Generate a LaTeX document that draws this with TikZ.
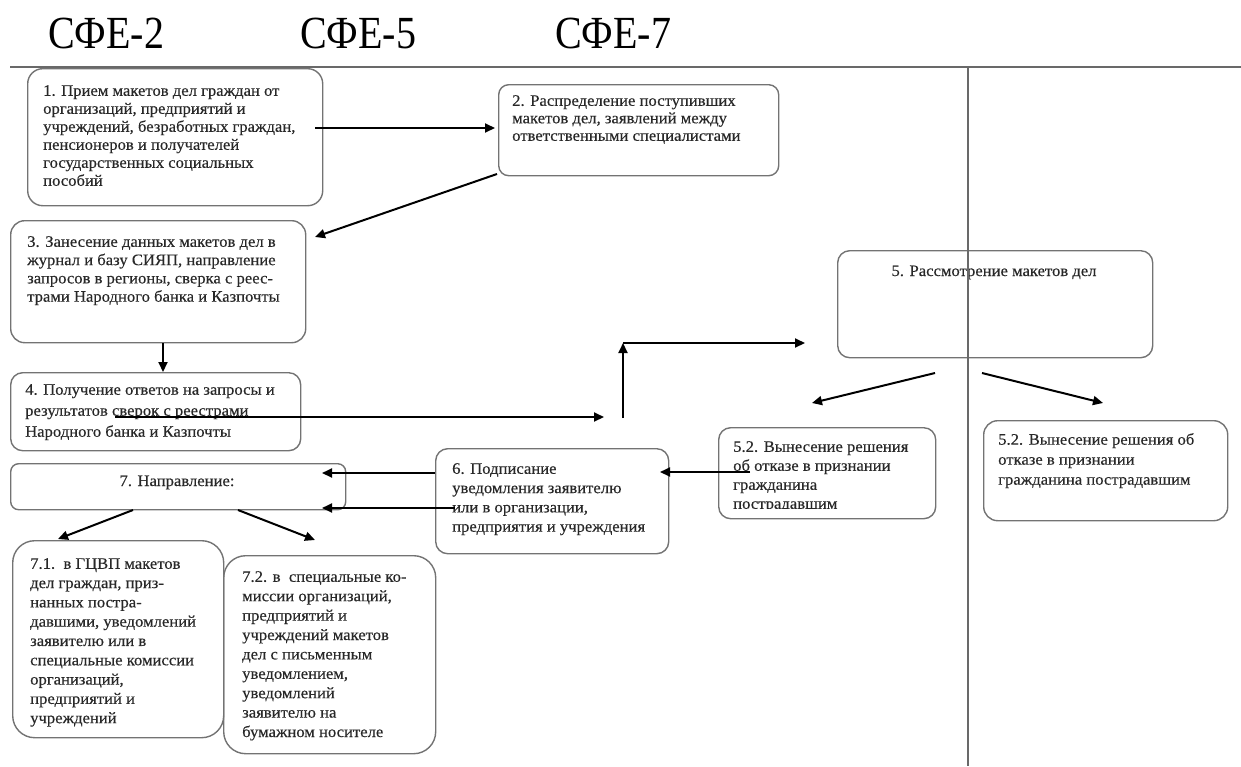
\documentclass[tikz,border=0pt]{standalone}
\usepackage{fontspec}
\usepackage{graphicx}
\setmainfont{Liberation Serif}
\newfontfamily\bx[FakeStretch=1.04,FakeBold=0.35]{Liberation Serif}
\usetikzlibrary{arrows.meta}
\definecolor{boxgray}{RGB}{115,115,115}
\definecolor{rulegray}{RGB}{105,105,105}
\definecolor{txtgray}{RGB}{40,40,40}
\begin{document}
\begin{tikzpicture}[x=1pt,y=-1pt,
 box/.style={draw=boxgray, line width=1.4pt, rounded corners=#1, anchor=north west, inner sep=0pt},
 box/.default=12pt,
 txt/.style={font=\bx\fontsize{16}{#1}\selectfont, align=left, inner sep=0pt, anchor=north west, text=txtgray},
 txt/.default=19,
 ttl/.style={font=\fontsize{40}{44}\selectfont, inner sep=0pt, anchor=base west},
 arr/.style={line width=2pt, -{Triangle[length=10pt,width=9pt]}},
 rule/.style={draw=rulegray, line width=2pt}]
\useasboundingbox (0,0) rectangle (1241,766);

% titles
\node[ttl] (h2) at (48,48) {\scalebox{1}[1.15]{СФЕ-2}};
\node[ttl] (h5) at (300,48) {\scalebox{1}[1.15]{СФЕ-5}};
\node[ttl] (h7) at (555,48) {\scalebox{1}[1.15]{СФЕ-7}};

% boxes
\node[box=15pt, minimum width=295pt, minimum height=137pt] (b1) at (27,68) {};
\node[box=10pt, minimum width=280pt, minimum height=91pt] (b2) at (498,84) {};
\node[box=14pt, minimum width=295pt, minimum height=122pt] (b3) at (10,220) {};
\node[box=12pt, minimum width=290pt, minimum height=78pt] (b4) at (10,372) {};
\node[box=12pt, minimum width=315pt, minimum height=107pt] (b5) at (837,250) {};
\node[box=12pt, minimum width=217pt, minimum height=91pt] (b51) at (718,427) {};
\node[box=14pt, minimum width=244pt, minimum height=100pt] (b52) at (983,420) {};
\node[box=12pt, minimum width=233pt, minimum height=105pt] (b6) at (435,448) {};
\node[box=8pt, minimum width=335pt, minimum height=46pt] (b7) at (10,463) {};
\node[box=22pt, minimum width=211pt, minimum height=197pt] (b71) at (12,540) {};
\node[box=22pt, minimum width=212pt, minimum height=198pt] (b72) at (223,555) {};

% texts
\node[txt=18] (t1) at (43,85) {1. Прием макетов дел граждан от\\организаций, предприятий и\\учреждений, безработных граждан,\\пенсионеров и получателей\\государственных социальных\\пособий};
\node[txt=17.5] (t2) at (512,95) {2. Распределение поступивших\\макетов дел, заявлений между\\ответственными специалистами};
\node[txt=18.3] (t3) at (27,236) {3. Занесение данных макетов дел в\\журнал и базу СИЯП, направление\\запросов в регионы, сверка с реес-\\трами Народного банка и Казпочты};
\node[txt=21] (t4) at (25,384) {4. Получение ответов на запросы и\\результатов сверок с реестрами\\Народного банка и Казпочты};
\node[txt, anchor=base] (t5) at (994,276) {5. Рассмотрение макетов дел};
\begin{scope}
\clip (718,427) rectangle (935,508);
\node[txt=19] (t51) at (733,441) {5.2. Вынесение решения\\об отказе в признании\\гражданина\\пострадавшим};
\end{scope}
\node[txt=20] (t52) at (998,433) {5.2. Вынесение решения об\\отказе в признании\\гражданина пострадавшим};
\node[txt=19.3] (t6) at (452,463) {6. Подписание\\уведомления заявителю\\или в организации,\\предприятия и учреждения};
\node[txt, anchor=base] (t7) at (177,486) {7. Направление:};
\node[txt=19.3] (t71) at (30,558) {7.1.~~в ГЦВП макетов\\дел граждан, приз-\\нанных постра-\\давшими, уведомлений\\заявителю или в\\специальные комиссии\\организаций,\\предприятий и\\учреждений};
\node[txt=19.4] (t72) at (242,571) {7.2. в~~специальные ко-\\миссии организаций,\\предприятий и\\учреждений макетов\\дел с письменным\\уведомлением,\\уведомлений\\заявителю на\\бумажном носителе};

% rules
\coordinate (r1) at (10,67);
\coordinate (r2) at (1241,67);
\coordinate (v1) at (968,67);
\coordinate (v2) at (968,766);
\draw[rule] (r1) -- (r2);
\draw[rule] (v1) -- (v2);

% connector end points
\coordinate (p12a) at (315,128);
\coordinate (p12b) at (495,128);
\coordinate (p23a) at (497,174);
\coordinate (p23b) at (315,237);
\coordinate (x34) at (163,0);
\coordinate (p4a) at (115,417);
\coordinate (p4b) at (604,417);
\coordinate (pu1) at (623,418);
\coordinate (pu2) at (623,343);
\coordinate (p5in) at (805,343);
\coordinate (p51a) at (935,373);
\coordinate (p51b) at (812,403);
\coordinate (p52a) at (982,373);
\coordinate (p52b) at (1103,403);
\coordinate (p6a) at (750,472);
\coordinate (p6b) at (660,472);
\coordinate (p7a) at (435,473);
\coordinate (p7b) at (322,473);
\coordinate (p7c) at (455,508);
\coordinate (p7d) at (322,508);
\coordinate (p71a) at (133,510);
\coordinate (p71b) at (58,539);
\coordinate (p72a) at (238,510);
\coordinate (p72b) at (315,540);

% connectors
\draw[arr] (p12a) -- (p12b);
\draw[arr] (p23a) -- (p23b);
\draw[arr] (b3.south -| x34) -- (b4.north -| x34);
\draw[arr] (p4a) -- (p4b);
\draw[arr] (pu1) -- (pu2);
\draw[arr] (pu2) -- (p5in);
\draw[arr] (p51a) -- (p51b);
\draw[arr] (p52a) -- (p52b);
\draw[arr] (p6a) -- (p6b);
\draw[arr] (p7a) -- (p7b);
\draw[arr] (p7c) -- (p7d);
\draw[arr] (p71a) -- (p71b);
\draw[arr] (p72a) -- (p72b);
\end{tikzpicture}
\end{document}
